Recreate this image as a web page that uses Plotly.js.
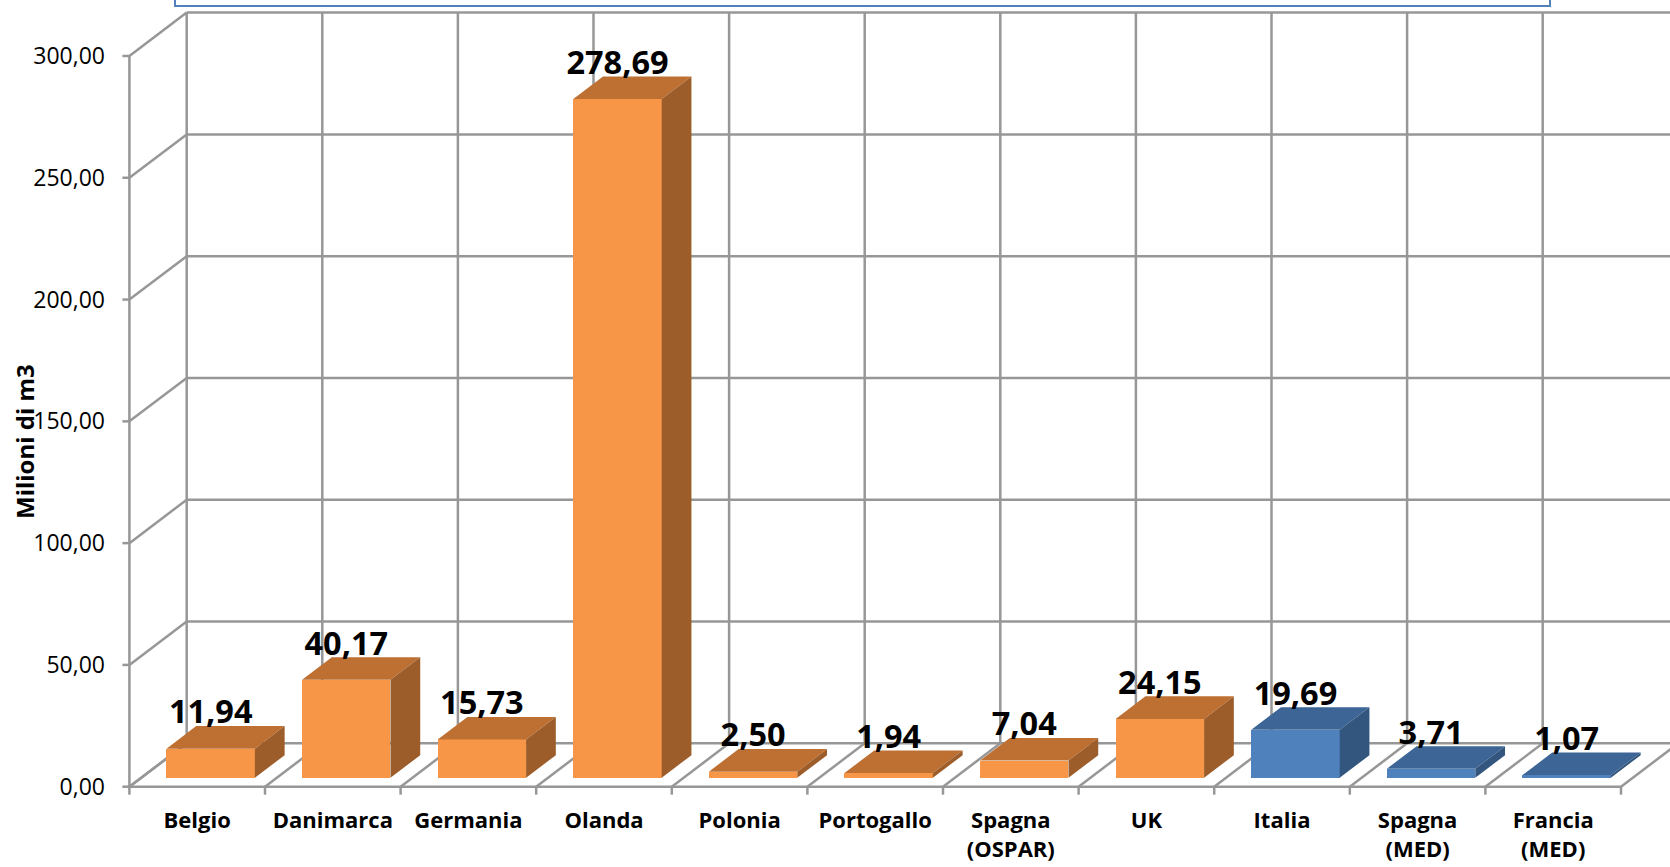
<!DOCTYPE html>
<html>
<head>
<meta charset="utf-8">
<script src="https://cdn.plot.ly/plotly-3.0.1.min.js"></script>
<style>html,body{margin:0;padding:0;background:#fff;}#chart{width:1670px;height:867px;}</style>
</head>
<body>
<div id="chart"></div>
<script>
// ---- data ----
const categories = ['Belgio', 'Danimarca', 'Germania', 'Olanda', 'Polonia', 'Portogallo',
  'Spagna<br>(OSPAR)', 'UK', 'Italia', 'Spagna<br>(MED)', 'Francia<br>(MED)'];
const values = [11.94, 40.17, 15.73, 278.69, 2.50, 1.94, 7.04, 24.15, 19.69, 3.71, 1.07];
const groups = ['OSPAR', 'OSPAR', 'OSPAR', 'OSPAR', 'OSPAR', 'OSPAR', 'OSPAR', 'OSPAR', 'MED', 'MED', 'MED'];
const yTickVals = [0, 50, 100, 150, 200, 250, 300];
const yAxisTitle = 'Milioni di m3';

// ---- styling / 3D projection constants ----
const PALETTE = {
  OSPAR: {front: '#F79646', top: '#BE7033', side: '#9C5D2B'},
  MED:   {front: '#4F81BD', top: '#3D6696', side: '#33567F'}
};
const GRID = '#979797';
const GW = 2.5;
const PX_PER_CAT = 135.6, PX_PER_VAL = 2.4357;
const DX = 57.3 / PX_PER_CAT;   // floor depth in category units
const DY = 43.4 / PX_PER_VAL;   // floor depth in value units
const D0 = 0.207, D1 = 0.726;   // bar front/back depth fractions
const BW = 0.652;               // bar width (category units)
const XSHIFT = 0.012;
const LABEL_DROP = 5.5 / PX_PER_VAL;
const FONT = 'Open Sans, Noto Sans, sans-serif';

const n = categories.length;
const idx = categories.map((_, i) => i);
const centers = idx.map(i => i + D0 * DX + XSHIFT);
const a = D0 * DY, b = D1 * DY, w = (D1 - D0) * DX;

const traces = [];
// front faces (real bar trace)
traces.push({
  type: 'bar', x: centers, y: values, base: a, width: BW,
  marker: {color: groups.map(g => PALETTE[g].front), line: {width: 0}},
  hoverinfo: 'skip', showlegend: false
});
// top and side faces per group
['OSPAR', 'MED'].forEach(g => {
  const tx = [], ty = [], sx = [], sy = [];
  values.forEach((v, i) => {
    if (groups[i] !== g) return;
    const xl = centers[i] - BW / 2, xr = centers[i] + BW / 2;
    tx.push(xl, xr, xr + w, xl + w, xl, null);
    ty.push(v + a, v + a, v + b, v + b, v + a, null);
    sx.push(xr, xr, xr + w, xr + w, xr, null);
    sy.push(a, v + a, v + b, b, a, null);
  });
  traces.push({type: 'scatter', mode: 'lines', x: tx, y: ty, fill: 'toself',
    fillcolor: PALETTE[g].top, line: {width: 0, color: PALETTE[g].top}, hoverinfo: 'skip', showlegend: false});
  traces.push({type: 'scatter', mode: 'lines', x: sx, y: sy, fill: 'toself',
    fillcolor: PALETTE[g].side, line: {width: 0, color: PALETTE[g].side}, hoverinfo: 'skip', showlegend: false});
});
// value labels
traces.push({
  type: 'scatter', mode: 'text', x: centers, y: values.map(v => v + b - LABEL_DROP),
  customdata: values, texttemplate: '%{customdata:.2f}', textposition: 'top center',
  textfont: {family: FONT, size: 32.5, color: '#000', weight: 700},
  cliponaxis: false, hoverinfo: 'skip', showlegend: false
});

// ---- frame shapes ----
const shapes = [];
const L = (x0, y0, x1, y1) => shapes.push({type: 'line', xref: 'x', yref: 'y', x0, y0, x1, y1,
  line: {color: GRID, width: GW}, layer: 'below'});
yTickVals.forEach(v => L(-0.5 + DX, v + DY, n + 1, v + DY));            // back wall horizontals
for (let k = 0; k <= n; k++) L(k - 0.5 + DX, DY, k - 0.5 + DX, 300 + DY); // back wall verticals
yTickVals.forEach(v => L(-0.5, v, -0.5 + DX, v + DY));                  // side wall diagonals
L(-0.5, 0, -0.5, 300);                                                  // front axis
L(-0.5, 0, n - 0.5, 0);                                                 // floor front edge
for (let k = 0; k <= n; k++) L(k - 0.5, 0, k - 0.5 + DX, DY);           // floor diagonals
for (let k = 0; k <= n; k++) L(k - 0.5, 0, k - 0.5, -8 / PX_PER_VAL);   // x ticks
yTickVals.forEach(v => L(-0.5, v, -0.5 - 7 / PX_PER_CAT, v));           // y ticks
// title box outline (cut at the top)
shapes.push({type: 'rect', xref: 'paper', yref: 'paper', x0: 0.0355, x1: 0.9226, y0: 0.9925, y1: 1.05,
  line: {color: '#4F81BD', width: 2}, fillcolor: 'rgba(0,0,0,0)', layer: 'above'});

const PLOT_L = 120, PLOT_B = 797;
const layout = {
  width: 1670, height: 867,
  margin: {l: PLOT_L, r: 0, t: 0, b: 867 - PLOT_B, pad: 0},
  paper_bgcolor: '#fff', plot_bgcolor: '#fff',
  separators: ',.',
  showlegend: false,
  font: {family: FONT, color: '#000'},
  xaxis: {
    range: [-0.5 - (129.4 - PLOT_L) / PX_PER_CAT, -0.5 + (1670 - 129.4) / PX_PER_CAT],
    tickmode: 'array', tickvals: idx, ticktext: categories,
    showgrid: false, zeroline: false, showline: false, ticks: '',
    tickfont: {family: FONT, size: 22, color: '#000', weight: 700},
    ticklabelstandoff: 8, fixedrange: true
  },
  yaxis: {
    range: [-(PLOT_B - 786.7) / PX_PER_VAL, 786.7 / PX_PER_VAL],
    tickmode: 'array', tickvals: yTickVals, tickformat: '.2f',
    showgrid: false, zeroline: false, showline: false, ticks: '',
    tickfont: {family: FONT, size: 23, color: '#000'},
    ticklabelstandoff: 14,
    fixedrange: true
  },
  annotations: [{
    text: yAxisTitle, textangle: -90, showarrow: false,
    xref: 'paper', yref: 'paper', x: (24 - PLOT_L) / 1550, y: (PLOT_B - 442) / PLOT_B,
    xanchor: 'center', yanchor: 'middle',
    font: {family: FONT, size: 24, color: '#000', weight: 700}
  }],
  shapes: shapes,
  bargap: 0
};

Plotly.newPlot('chart', traces, layout, {displayModeBar: false, staticPlot: true});
</script>
</body>
</html>
